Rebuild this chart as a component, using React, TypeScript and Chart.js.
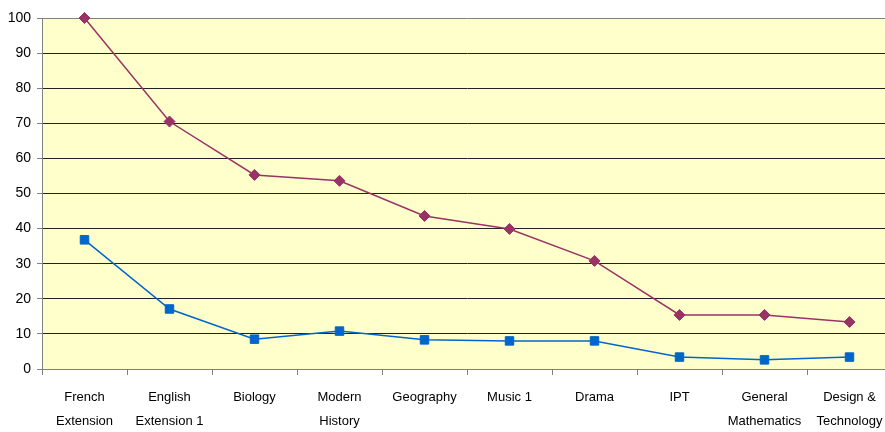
import React, { useEffect, useRef } from "react";
import { Chart, registerables } from "chart.js";

Chart.register(...registerables);

const categories: string[][] = [
  ["French", "Extension"],
  ["English", "Extension 1"],
  ["Biology"],
  ["Modern", "History"],
  ["Geography"],
  ["Music 1"],
  ["Drama"],
  ["IPT"],
  ["General", "Mathematics"],
  ["Design &", "Technology"],
];

const seriesPurple = [100, 70.5, 55.3, 53.6, 43.6, 39.9, 30.8, 15.4, 15.4, 13.4];
const seriesBlue = [36.8, 17.1, 8.5, 10.8, 8.3, 8.0, 8.0, 3.4, 2.6, 3.4];

const yTicks = [0, 10, 20, 30, 40, 50, 60, 70, 80, 90, 100];

const bgPlugin = {
  id: "plotBg",
  beforeDraw(chart: any) {
    const { ctx, chartArea } = chart;
    ctx.save();
    ctx.fillStyle = "#FFFFCC";
    ctx.fillRect(chartArea.left, chartArea.top, chartArea.right - chartArea.left, chartArea.bottom - chartArea.top);
    ctx.restore();
  },
};

export default function App() {
  const ref = useRef<HTMLCanvasElement | null>(null);

  useEffect(() => {
    document.body.style.margin = "0";
    document.body.style.overflow = "hidden";
    const canvas = ref.current;
    if (!canvas) return;
    const chart = new Chart(canvas, {
      type: "line",
      data: {
        labels: categories,
        datasets: [
          {
            data: seriesPurple,
            borderColor: "#993366",
            backgroundColor: "#993366",
            borderWidth: 1.5,
            pointStyle: "rectRot",
            pointRadius: 5.5,
            pointBorderWidth: 1,
            tension: 0,
            clip: false,
          },
          {
            data: seriesBlue,
            borderColor: "#0066CC",
            backgroundColor: "#0066CC",
            borderWidth: 1.5,
            pointStyle: "rect",
            pointRadius: 6,
            pointBorderWidth: 1,
            tension: 0,
            clip: false,
          },
        ],
      },
      options: {
        animation: false,
        responsive: false,
        maintainAspectRatio: false,
        layout: { padding: { top: 18, right: 0, left: 0, bottom: 0 } },
        plugins: {
          legend: { display: false },
          tooltip: { enabled: false },
        },
        scales: {
          x: {
            type: "category",
            offset: true,
            grid: {
              offset: true,
              drawOnChartArea: false,
              drawTicks: true,
              tickLength: 6,
              color: "#808080",
            },
            border: { color: "#808080", width: 1 },
            ticks: {
              color: "#000",
              padding: 10,
              maxRotation: 0,
              autoSkip: false,
              font: { family: "'Liberation Sans', Arial, sans-serif", size: 13, lineHeight: 1.85 },
            },
            afterFit(scale: any) {
              scale.height = 63;
              scale.paddingLeft = 0;
              scale.paddingRight = 0;
            },
          },
          y: {
            min: 0,
            max: 100,
            afterBuildTicks(scale: any) {
              scale.ticks = yTicks.map((v) => ({ value: v }));
            },
            grid: {
              color: (c: any) => (c.tick && (c.tick.value === 100 || c.tick.value === 0) ? "#808080" : "#222"),
              tickColor: "#808080",
              tickLength: 5,
              lineWidth: 1,
            },
            border: { color: "#808080", width: 1 },
            ticks: {
              color: "#000",
              padding: 6,
              font: { family: "'Liberation Sans', Arial, sans-serif", size: 14 },
            },
            afterFit(scale: any) {
              scale.width = 42;
              scale.paddingTop = 0;
              scale.paddingBottom = 0;
            },
          },
        },
      },
      plugins: [bgPlugin],
    });
    return () => chart.destroy();
  }, []);

  return (
    <div style={{ width: 885, height: 432, overflow: "hidden", position: "relative" }}>
      <canvas ref={ref} width={899} height={432} style={{ display: "block", width: 899, height: 432 }} />
    </div>
  );
}
